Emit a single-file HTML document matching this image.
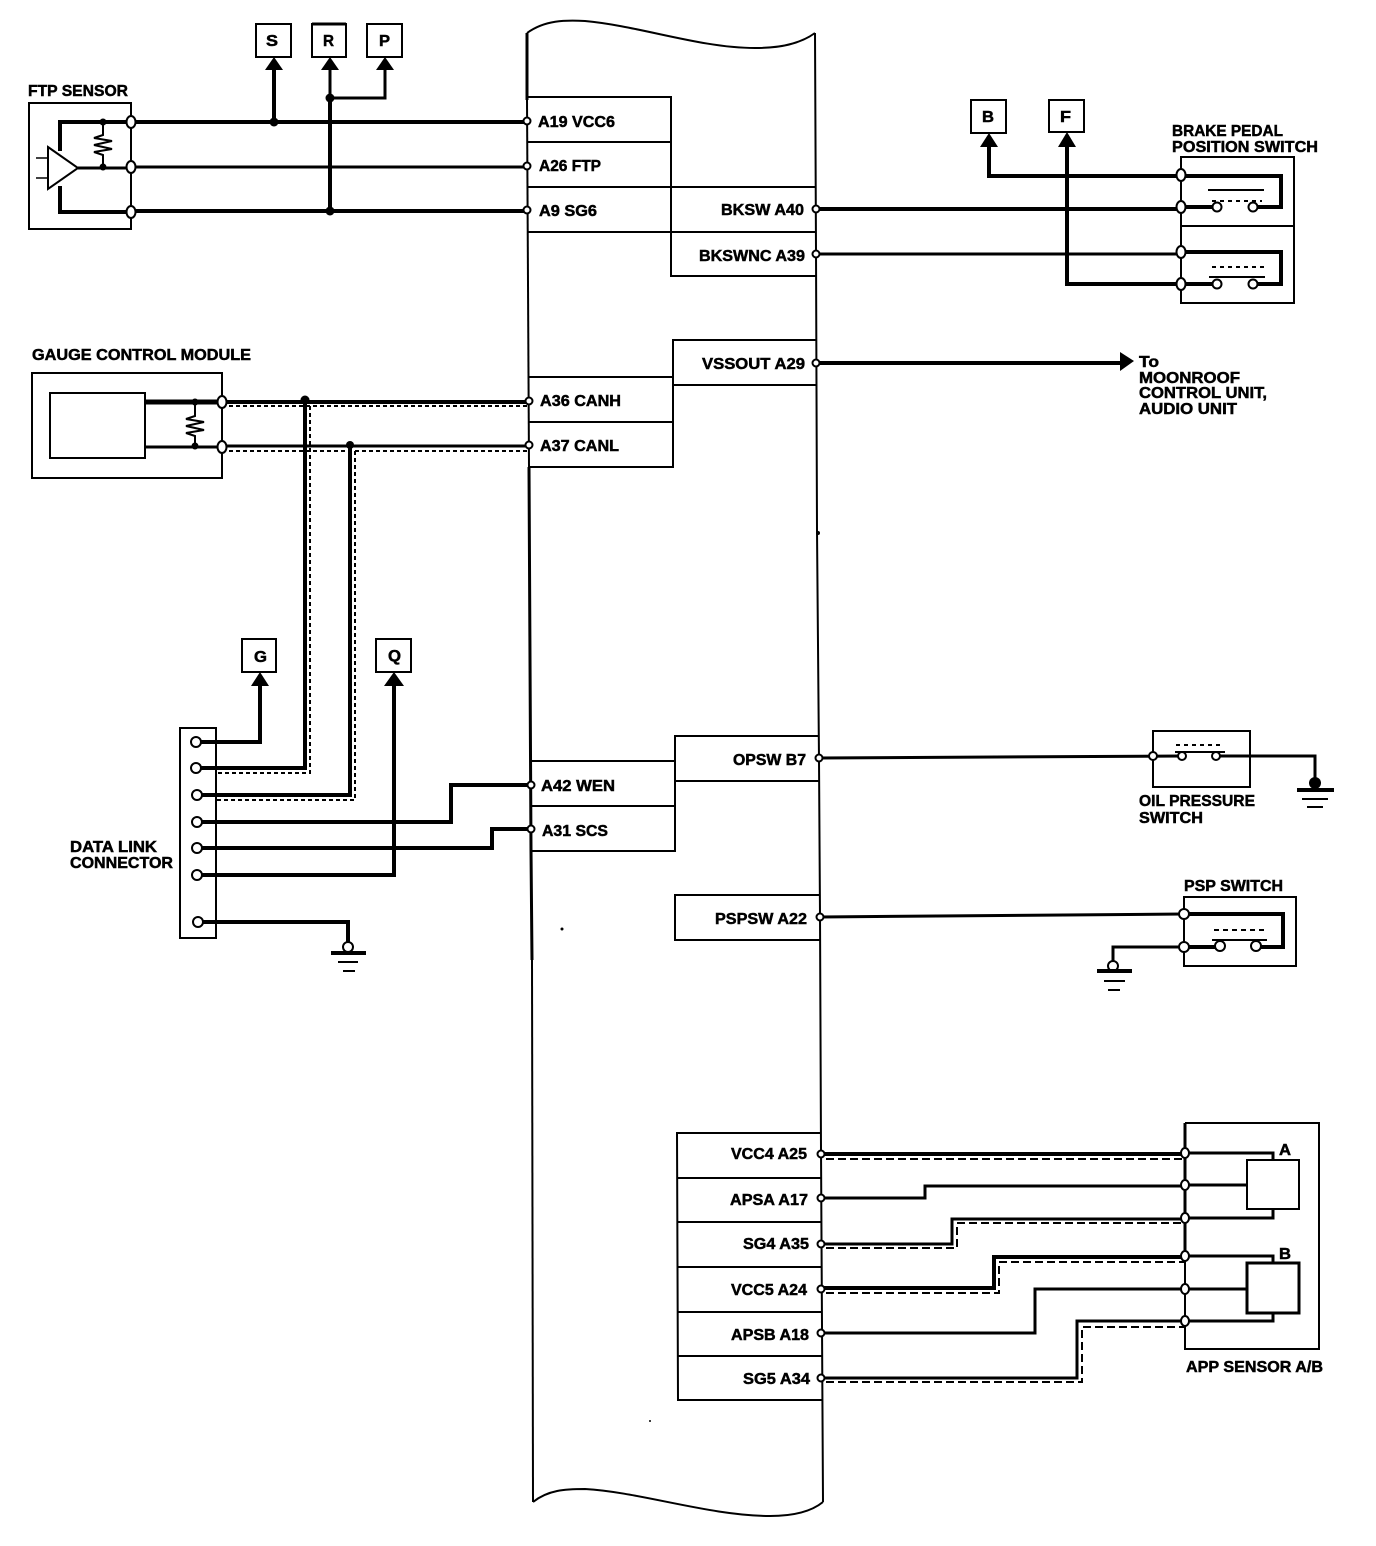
<!DOCTYPE html>
<html><head><meta charset="utf-8"><title>Wiring diagram</title>
<style>
html,body{margin:0;padding:0;background:#fff;width:1376px;height:1546px;overflow:hidden}
svg{display:block}
text{font-family:"Liberation Sans",sans-serif;font-weight:700;font-size:16px;fill:#000;stroke:#000;stroke-width:.5}
.l{fill:none;stroke:#000;stroke-linejoin:miter}
.w1{stroke-width:1.5}.w2{stroke-width:2}.w3{stroke-width:3}.w4{stroke-width:4}.w5{stroke-width:5}
.d{stroke-dasharray:8 4;stroke-width:2}
.ds{stroke-dasharray:4 3;stroke-width:2}
.p{fill:#fff;stroke:#000;stroke-width:2}
</style></head><body>
<svg width="1376" height="1546" viewBox="0 0 1376 1546" xmlns="http://www.w3.org/2000/svg">
<rect width="1376" height="1546" fill="#fff"/>

<!-- ECU body -->
<path class="l w2" d="M527 33 C545 20 565 20 585 21 C640 26 700 48 755 48 C780 48 800 44 815 33"/>
<path class="l w3" d="M527 33 L527 100"/>
<path class="l w2" d="M527 100 L529 467"/>
<path class="l w3" d="M529 467 L531 850 L532 960"/>
<path class="l w2" d="M532 960 L533 1502"/>
<path class="l w2" d="M815 33 L816 250 L817 530 L819 760 L820 915 L821 1150 L823 1502"/>
<path class="l w2" d="M533 1502 C548 1490 565 1489 585 1489 C640 1492 710 1516 770 1516 C795 1516 812 1511 823 1502"/>

<!-- ECU tables -->
<path class="l w2" d="M527 97H671V276H816M527 142H671M527 187H816M527 232H816"/>
<path class="l w2" d="M817 340H673V385H817M529 377H673M529 422H673M529 467H673V385"/>
<path class="l w2" d="M819 736H675V851H531M819 781H675M531 761H675M531 806H675"/>
<path class="l w2" d="M820 895H675V940H820"/>
<path class="l w2" d="M821 1133H677L678 1400H822M677 1178H821M677 1222H821M677 1267H821M677 1312H821M677 1356H822"/>

<!-- FTP sensor -->
<rect x="29" y="103" width="102" height="126" class="l w2"/>
<path class="l w4" d="M60 151V122H131M60 186V212H131"/>
<path class="l w3" d="M78 168H131"/>
<polygon points="48,147 78,168 48,189" fill="#fff" stroke="#000" stroke-width="2"/>
<path class="l w1" d="M36 158H48M36 178H48"/>
<path class="l w2" d="M103 122V135L94 138L112 141L94 145L112 149L94 152L103 155V167"/>
<circle cx="103" cy="122" r="3.5"/><circle cx="103" cy="167" r="3.5"/>
<path class="l w4" d="M131 122H527M131 211H527"/>
<path class="l w3" d="M131 167H527"/>
<path class="l w4" d="M274 122V68M330 98V211"/>
<path class="l w3" d="M330 98V68M330 98H385V68"/>
<circle cx="274" cy="122" r="4.5"/><circle cx="330" cy="98" r="4.5"/><circle cx="330" cy="211" r="4.5"/>
<polygon points="274,57 265,70 283,70"/><polygon points="330,57 321,70 339,70"/><polygon points="385,57 376,70 394,70"/>
<rect x="256" y="24" width="35" height="33" fill="#fff" class="l w2"/>
<rect x="312" y="24" width="34" height="33" class="l w2"/>
<path class="l w3" d="M312 24H346"/>
<rect x="367" y="24" width="35" height="33" class="l w2"/>
<ellipse class="p" cx="131" cy="122" rx="4.5" ry="6"/><ellipse class="p" cx="131" cy="167" rx="4.5" ry="6"/><ellipse class="p" cx="131" cy="212" rx="4.5" ry="6"/>

<!-- Gauge control module -->
<rect x="32" y="373" width="190" height="105" class="l w2"/>
<rect x="50" y="393" width="95" height="65" class="l w2"/>
<path class="l w5" d="M145 402H222"/>
<path class="l w3" d="M145 447H222"/>
<path class="l w2" d="M195 402V416L186 419L204 422L186 426L204 430L186 433L195 436V447"/>
<circle cx="195" cy="402" r="3.5"/><circle cx="195" cy="446" r="3.5"/>
<path class="l w4" d="M222 402H529"/>
<path class="l w3" d="M222 446H529"/>
<path class="l ds" d="M229 406H529M229 451H529"/>
<path class="l ds" d="M310 406V773H216M355 451V800H216"/>
<path class="l w4" d="M305 400V768H196M350 445V795H196"/>
<circle cx="305" cy="400" r="4.5"/><circle cx="350" cy="445" r="4"/>
<ellipse class="p" cx="222" cy="402" rx="4.5" ry="6"/><ellipse class="p" cx="222" cy="447" rx="4.5" ry="6"/>

<!-- Data link connector -->
<rect x="180" y="728" width="36" height="210" class="l w2"/>
<path class="l w4" d="M196 742H260V685M197 875H394V685"/>
<path class="l w4" d="M197 822H451V785H531M198 848H492V829H531"/>
<path class="l w4" d="M198 922H348V948"/>
<polygon points="260,672 251,686 269,686"/><polygon points="394,672 384,686 404,686"/>
<rect x="242" y="639" width="34" height="33" class="l w2"/>
<rect x="376" y="639" width="35" height="33" class="l w2"/>
<circle class="p" cx="196" cy="742" r="5"/><circle class="p" cx="196" cy="768" r="5"/><circle class="p" cx="197" cy="795" r="5"/><circle class="p" cx="197" cy="822" r="5"/><circle class="p" cx="197" cy="848" r="5"/><circle class="p" cx="197" cy="875" r="5"/><circle class="p" cx="198" cy="922" r="5"/>
<circle class="p" cx="348" cy="947" r="5"/>
<path class="l w4" d="M331 953H366"/><path class="l w2" d="M338 962H358M343 971H355"/>

<!-- Brake switch -->
<path class="l w2" d="M1181 157H1294V303H1181ZM1181 226H1294"/>
<path class="l w4" d="M989 146V176H1181H1281V207H1253M1067 146V284H1181"/>
<path class="l w4" d="M1181 207H1217M1181 252H1281V284H1253M1181 284H1217"/>
<path class="l w4" d="M816 209H1181"/>
<path class="l w3" d="M816 254H1181"/>
<polygon points="989,133 980,147 998,147"/><polygon points="1067,132 1058,147 1076,147"/>
<rect x="971" y="100" width="35" height="33" class="l w2"/>
<rect x="1049" y="100" width="35" height="32" class="l w2"/>
<path class="l w2" d="M1208 190H1264M1209 277H1265"/>
<path class="l w2" d="M1212 201H1262M1212 267H1264" stroke-dasharray="4 4"/>
<circle class="p" cx="1217" cy="207" r="4.5"/><circle class="p" cx="1253" cy="207" r="4.5"/><circle class="p" cx="1217" cy="284" r="4.5"/><circle class="p" cx="1253" cy="284" r="4.5"/>
<ellipse class="p" cx="1181" cy="175" rx="4.5" ry="6"/><ellipse class="p" cx="1181" cy="207" rx="4.5" ry="6"/><ellipse class="p" cx="1181" cy="252" rx="4.5" ry="6"/><ellipse class="p" cx="1181" cy="284" rx="4.5" ry="6"/>

<!-- VSSOUT -->
<path class="l w4" d="M817 363H1122"/>
<polygon points="1134,361 1120,352 1120,371"/>

<!-- Oil pressure -->
<rect x="1153" y="731" width="97" height="56" class="l w2"/>
<path class="l w3" d="M819 758L1182 756M1216 756H1315V782"/>
<path class="l w2" d="M1175 752H1225"/>
<path class="l w2" d="M1176 745H1220" stroke-dasharray="4 4"/>
<circle class="p" cx="1153" cy="756" r="4"/><circle class="p" cx="1182" cy="756" r="4"/><circle class="p" cx="1216" cy="756" r="4"/>
<circle cx="1315" cy="783" r="6"/>
<path class="l w4" d="M1297 790H1334"/><path class="l w2" d="M1302 799H1328M1307 807H1323"/>

<!-- PSP -->
<rect x="1184" y="897" width="112" height="69" class="l w2"/>
<path class="l w3" d="M820 917L1184 914"/>
<path class="l w4" d="M1184 914H1283V947H1256M1184 947H1220"/>
<path class="l w3" d="M1184 947H1113V966"/>
<path class="l w2" d="M1212 940H1267"/>
<path class="l w2" d="M1214 930H1267" stroke-dasharray="5 4"/>
<circle class="p" cx="1220" cy="946" r="5"/><circle class="p" cx="1256" cy="946" r="5"/>
<circle class="p" cx="1184" cy="914" r="5"/><circle class="p" cx="1184" cy="947" r="5"/>
<circle class="p" cx="1113" cy="966" r="5"/>
<path class="l w4" d="M1097 971H1132"/><path class="l w2" d="M1104 981H1125M1108 990H1120"/>

<!-- APP sensor -->
<path class="l w2" d="M1185 1123H1319V1349H1185V1256"/>
<path class="l w3" d="M1185 1123V1256"/>
<rect x="1247" y="1160" width="52" height="49" class="l w2"/>
<rect x="1247" y="1263" width="52" height="50" class="l w3"/>
<path class="l w3" d="M1185 1153H1273V1160M1185 1185H1247M1185 1218H1273V1209M1185 1256H1273V1263M1185 1289H1247M1185 1321H1273V1313"/>
<path class="l w4" d="M821 1154H1185"/>
<path class="l w3" d="M821 1198H925V1186H1185"/>
<path class="l w3" d="M821 1244H952V1219H1185"/>
<path class="l w4" d="M821 1288H994V1257H1185"/>
<path class="l w3" d="M821 1333H1035V1289H1185"/>
<path class="l w3" d="M821 1378H1077V1321H1185"/>
<path class="l d" d="M826 1159H1185M826 1248H957V1223H1185M826 1293H999V1262H1185M826 1382H1082V1327H1185"/>
<circle class="p" cx="821" cy="1154" r="3.5"/><circle class="p" cx="821" cy="1198" r="3.5"/><circle class="p" cx="821" cy="1244" r="3.5"/><circle class="p" cx="821" cy="1289" r="3.5"/><circle class="p" cx="821" cy="1333" r="3.5"/><circle class="p" cx="821" cy="1378" r="3.5"/>
<ellipse class="p" cx="1185" cy="1153" rx="4" ry="5"/><ellipse class="p" cx="1185" cy="1185" rx="4" ry="5"/><ellipse class="p" cx="1185" cy="1218" rx="4" ry="5"/><ellipse class="p" cx="1185" cy="1256" rx="4" ry="5"/><ellipse class="p" cx="1185" cy="1289" rx="4" ry="5"/><ellipse class="p" cx="1185" cy="1321" rx="4" ry="5"/>

<!-- ECU pins -->
<circle class="p" cx="527" cy="121" r="3.5"/><circle class="p" cx="527" cy="166" r="3.5"/><circle class="p" cx="527" cy="210" r="3.5"/>
<circle class="p" cx="816" cy="209" r="3.5"/><circle class="p" cx="816" cy="254" r="3.5"/><circle class="p" cx="816" cy="363" r="3.5"/>
<circle class="p" cx="529" cy="401" r="3.5"/><circle class="p" cx="529" cy="445" r="3.5"/>
<circle class="p" cx="531" cy="785" r="3.5"/><circle class="p" cx="531" cy="829" r="3.5"/>
<circle class="p" cx="819" cy="758" r="3.5"/><circle class="p" cx="820" cy="917" r="3.5"/>

<!-- specks -->
<circle cx="562" cy="929" r="1.5"/><circle cx="650" cy="1421" r="1"/><circle cx="818" cy="533" r="2"/>

<!-- labels -->
<text x="28" y="96" textLength="100" lengthAdjust="spacingAndGlyphs">FTP SENSOR</text>
<text x="32" y="360" textLength="219" lengthAdjust="spacingAndGlyphs">GAUGE CONTROL MODULE</text>
<text x="266" y="46" textLength="12" lengthAdjust="spacingAndGlyphs">S</text>
<text x="323" y="46" textLength="11" lengthAdjust="spacingAndGlyphs">R</text>
<text x="379" y="46" textLength="11" lengthAdjust="spacingAndGlyphs">P</text>
<text x="982" y="122" textLength="12" lengthAdjust="spacingAndGlyphs">B</text>
<text x="1060" y="122" textLength="11" lengthAdjust="spacingAndGlyphs">F</text>
<text x="254" y="662" textLength="13" lengthAdjust="spacingAndGlyphs">G</text>
<text x="388" y="661" textLength="13" lengthAdjust="spacingAndGlyphs">Q</text>
<text x="538" y="127" textLength="77" lengthAdjust="spacingAndGlyphs">A19 VCC6</text>
<text x="539" y="171" textLength="62" lengthAdjust="spacingAndGlyphs">A26 FTP</text>
<text x="539" y="216" textLength="58" lengthAdjust="spacingAndGlyphs">A9 SG6</text>
<text x="721" y="215" textLength="83" lengthAdjust="spacingAndGlyphs">BKSW A40</text>
<text x="699" y="261" textLength="106" lengthAdjust="spacingAndGlyphs">BKSWNC A39</text>
<text x="702" y="369" textLength="103" lengthAdjust="spacingAndGlyphs">VSSOUT A29</text>
<text x="540" y="406" textLength="81" lengthAdjust="spacingAndGlyphs">A36 CANH</text>
<text x="540" y="451" textLength="79" lengthAdjust="spacingAndGlyphs">A37 CANL</text>
<text x="733" y="765" textLength="73" lengthAdjust="spacingAndGlyphs">OPSW B7</text>
<text x="541" y="791" textLength="74" lengthAdjust="spacingAndGlyphs">A42 WEN</text>
<text x="542" y="836" textLength="66" lengthAdjust="spacingAndGlyphs">A31 SCS</text>
<text x="715" y="924" textLength="92" lengthAdjust="spacingAndGlyphs">PSPSW A22</text>
<text x="731" y="1159" textLength="76" lengthAdjust="spacingAndGlyphs">VCC4 A25</text>
<text x="730" y="1205" textLength="78" lengthAdjust="spacingAndGlyphs">APSA A17</text>
<text x="743" y="1249" textLength="66" lengthAdjust="spacingAndGlyphs">SG4 A35</text>
<text x="731" y="1295" textLength="76" lengthAdjust="spacingAndGlyphs">VCC5 A24</text>
<text x="731" y="1340" textLength="78" lengthAdjust="spacingAndGlyphs">APSB A18</text>
<text x="743" y="1384" textLength="67" lengthAdjust="spacingAndGlyphs">SG5 A34</text>
<text x="1172" y="136" textLength="111" lengthAdjust="spacingAndGlyphs">BRAKE PEDAL</text>
<text x="1172" y="152" textLength="146" lengthAdjust="spacingAndGlyphs">POSITION SWITCH</text>
<text x="1139" y="367" textLength="20" lengthAdjust="spacingAndGlyphs">To</text>
<text x="1139" y="383" textLength="101" lengthAdjust="spacingAndGlyphs">MOONROOF</text>
<text x="1139" y="398" textLength="128" lengthAdjust="spacingAndGlyphs">CONTROL UNIT,</text>
<text x="1139" y="414" textLength="98" lengthAdjust="spacingAndGlyphs">AUDIO UNIT</text>
<text x="70" y="852" textLength="87" lengthAdjust="spacingAndGlyphs">DATA LINK</text>
<text x="70" y="868" textLength="103" lengthAdjust="spacingAndGlyphs">CONNECTOR</text>
<text x="1139" y="806" textLength="116" lengthAdjust="spacingAndGlyphs">OIL PRESSURE</text>
<text x="1139" y="823" textLength="64" lengthAdjust="spacingAndGlyphs">SWITCH</text>
<text x="1184" y="891" textLength="99" lengthAdjust="spacingAndGlyphs">PSP SWITCH</text>
<text x="1279" y="1155" textLength="12" lengthAdjust="spacingAndGlyphs">A</text>
<text x="1279" y="1259" textLength="12" lengthAdjust="spacingAndGlyphs">B</text>
<text x="1186" y="1372" textLength="137" lengthAdjust="spacingAndGlyphs">APP SENSOR A/B</text>
</svg>
</body></html>
